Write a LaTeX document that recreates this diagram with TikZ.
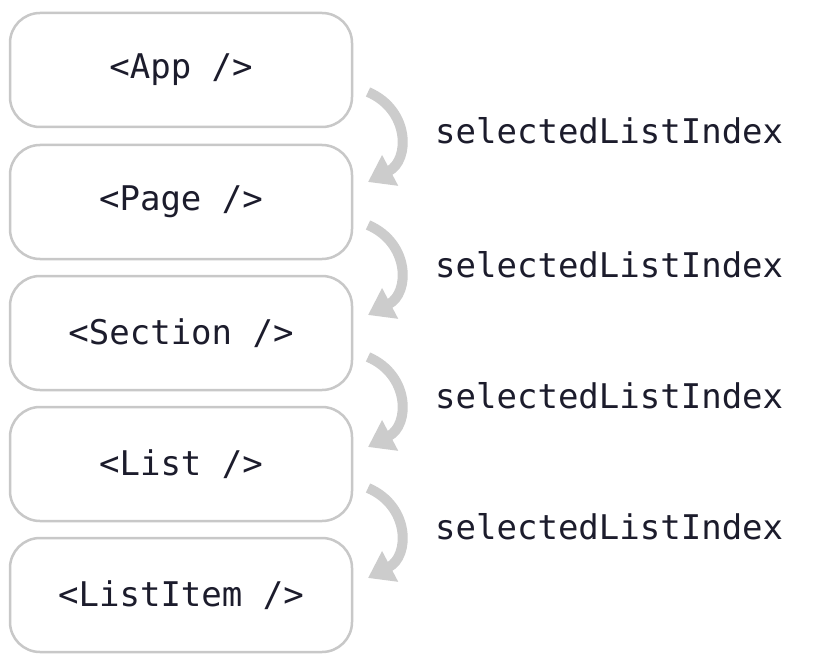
\documentclass[tikz,border=0pt]{standalone}
\usepackage{fontspec}
\setmonofont{DejaVu Sans Mono}
\usetikzlibrary{arrows.meta}
\definecolor{boxline}{HTML}{C8C8C8}
\definecolor{arrowc}{HTML}{CCCCCC}
\definecolor{txt}{HTML}{1C1C2C}
\begin{document}
\begin{tikzpicture}[x=1pt,y=-1pt,
  comp/.style={draw=boxline,line width=2.5pt,rounded corners=30pt,minimum width=342pt,minimum height=114pt,font=\ttfamily\fontsize{34}{40}\selectfont,text=txt,inner sep=0pt},
  proplabel/.style={anchor=west,font=\ttfamily\fontsize{34}{40}\selectfont,text=txt,inner sep=0pt},
  flow/.style={draw=arrowc,line width=10pt,-{Triangle[length=25pt,width=33pt]}}]
\useasboundingbox (0,0) rectangle (818,671);
\fill[white] (0,0) rectangle (818,671);
\node[comp] (b1) at (181,70) {<App />};
\node[comp] (b2) at (181,202) {<Page />};
\node[comp] (b3) at (181,333) {<Section />};
\node[comp] (b4) at (181,464) {<List />};
\node[comp] (b5) at (181,595) {<ListItem />};
\foreach \i/\j/\y in {1/2/92,2/3/225,3/4/357,4/5/488}{
  \coordinate (s\i) at (368,\y);
  \coordinate (e\i) at (368,\y+90);
  \draw[flow] (s\i) .. controls (410,\y+18) and (410,\y+68) .. (e\i);
}
\node[proplabel] (l1) at (435,131) {selectedListIndex};
\node[proplabel] (l2) at (435,265) {selectedListIndex};
\node[proplabel] (l3) at (435,396) {selectedListIndex};
\node[proplabel] (l4) at (435,527) {selectedListIndex};
\end{tikzpicture}
\end{document}
